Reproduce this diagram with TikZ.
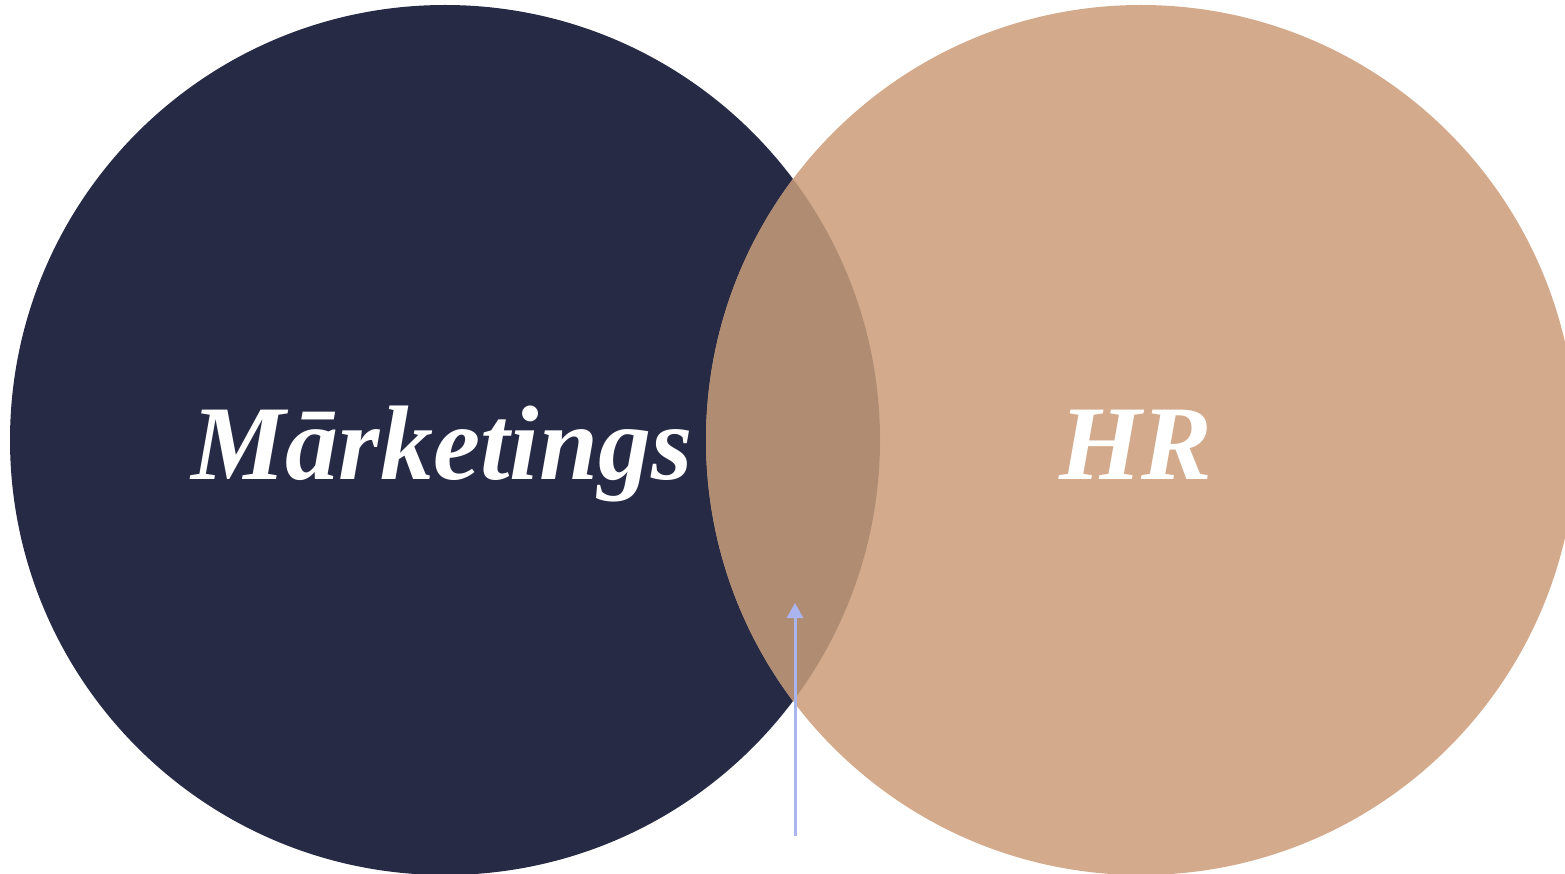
\documentclass[tikz,border=0pt]{standalone}
\usepackage{fontspec}
\newfontfamily\labelfont{Liberation Serif Bold Italic}
\usetikzlibrary{arrows.meta}
\definecolor{navy}{HTML}{262A44}
\definecolor{tan}{HTML}{D3AB8C}
\definecolor{mix}{HTML}{B08D72}
\definecolor{arrowblue}{HTML}{AAB4EE}
\tikzset{
  setcircle/.style={circle, inner sep=0pt, minimum size=870pt},
  biglabel/.style={text=white, font=\labelfont\fontsize{106}{106}\selectfont, inner sep=0pt, anchor=base},
  pointer/.style={draw=arrowblue, line width=3pt, -{Triangle[width=16pt,length=15pt]}}
}
\begin{document}
\begin{tikzpicture}[x=1pt,y=-1pt]
\useasboundingbox (0,0) rectangle (1565,874);
\node[setcircle, fill=navy] (mk) at (445,440) {};
\node[setcircle, fill=tan] (hr) at (1141,440) {};
\begin{scope}
  \clip (445,440) circle (435pt);
  \fill[mix] (1141,440) circle (435pt);
\end{scope}
\node[biglabel] (mktext) at (442,479) {Mārketings};
\node[biglabel] (hrtext) at (1136,479) {HR};
\coordinate (arrowstart) at (795,836);
\coordinate (arrowtip) at (795,603);
\draw[pointer] (arrowstart) -- (arrowtip);
\end{tikzpicture}
\end{document}
